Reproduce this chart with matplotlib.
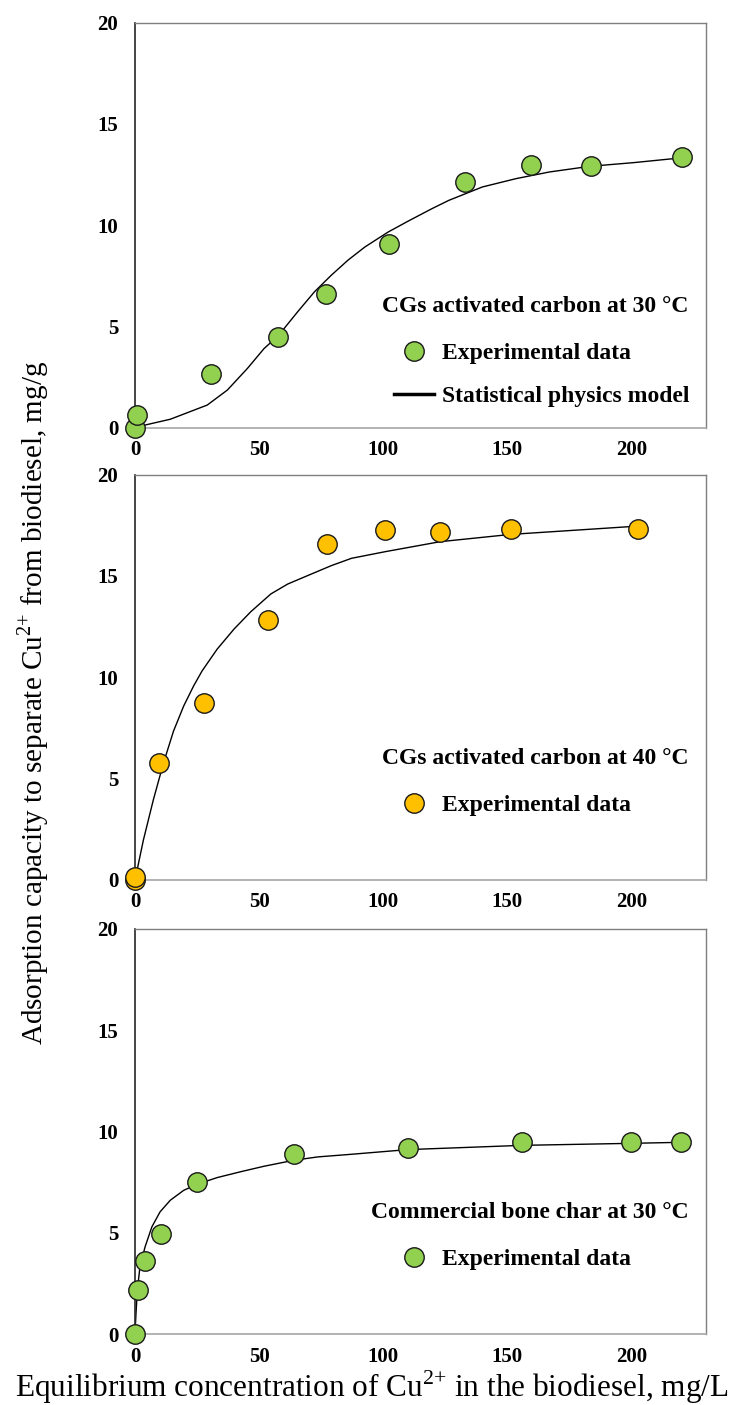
import matplotlib
matplotlib.use("Agg")
import matplotlib.pyplot as plt
from matplotlib.lines import Line2D

plt.rcParams["font.family"] = ["Liberation Serif", "DejaVu Serif"]
plt.rcParams["mathtext.fontset"] = "custom"
plt.rcParams["mathtext.rm"] = "Liberation Serif"

# panel 1: CGs activated carbon at 30 °C
x30 = [0, 0.9, 30.5, 57.7, 76.9, 102.3, 132.8, 159.6, 183.6, 220.3]
q30 = [0, 0.65, 2.64, 4.5, 6.62, 9.08, 12.13, 12.98, 12.95, 13.38]
mx30 = [0, 14.2, 29.1, 37.2, 45.3, 52.0, 57.7, 65.5, 72.3, 79.1, 85.8, 92.6,
        102.0, 110.1, 119.6, 126.4, 139.9, 153.4, 166.9, 183.2, 200.7, 220.3]
mq30 = [0.03, 0.43, 1.13, 1.87, 2.94, 3.92, 4.55, 5.73, 6.72, 7.54, 8.28, 8.93,
        9.67, 10.21, 10.82, 11.23, 11.89, 12.30, 12.63, 12.91, 13.09, 13.33]

# panel 2: CGs activated carbon at 40 °C
x40 = [0, 0.2, 9.7, 27.8, 53.5, 77.4, 100.9, 122.9, 151.4, 202.7]
q40 = [0, 0.15, 5.78, 8.75, 12.85, 16.6, 17.25, 17.16, 17.34, 17.31]
mx40 = [0, 3.4, 7.4, 11.5, 15.5, 19.6, 23.6, 27.0, 33.1, 39.9, 46.6, 54.7,
        61.5, 69.6, 79.1, 87.2, 100.9, 122.9, 151.4, 202.7]
mq40 = [0, 1.98, 3.96, 5.78, 7.34, 8.58, 9.57, 10.31, 11.39, 12.38, 13.23, 14.11,
        14.60, 15.02, 15.51, 15.87, 16.2, 16.69, 17.05, 17.46]

# panel 3: commercial bone char at 30 °C
xbc = [0, 1.2, 3.9, 10.5, 25.1, 63.9, 109.8, 155.8, 199.8, 219.9]
qbc = [0, 2.17, 3.62, 4.95, 7.52, 8.9, 9.16, 9.47, 9.47, 9.47]
mxbc = [0, 0.4, 0.95, 2.0, 4.05, 6.8, 10.1, 14.2, 19.6, 25.0, 33.1, 42.6, 52.0,
        63.8, 73.6, 87.2, 109.8, 155.8, 199.8, 219.9]
mqbc = [0.03, 1.02, 2.17, 3.32, 4.30, 5.29, 6.03, 6.60, 7.09, 7.39, 7.72, 8.01, 8.28,
        8.57, 8.74, 8.87, 9.10, 9.31, 9.41, 9.46]

panels = [
    ("CGs activated carbon at 30 °C", x30, q30, mx30, mq30, "#92D050", True),
    ("CGs activated carbon at 40 °C", x40, q40, mx40, mq40, "#FFC000", False),
    ("Commercial bone char at 30 °C", xbc, qbc, mxbc, mqbc, "#92D050", False),
]

fig = plt.figure(figsize=(7.43, 14.05), dpi=100)
bottoms = [0.6954, 0.3737, 0.0505]
left, width, height = 0.1817, 0.7685, 0.2885

for (title, xs, qs, mxs, mqs, color, show_model), b in zip(panels, bottoms):
    ax = fig.add_axes([left, b, width, height])
    ax.plot(mxs, mqs, color="black", linewidth=1.0, zorder=2)
    ax.plot(xs, qs, linestyle="none", marker="o", markersize=14,
            markerfacecolor=color, markeredgecolor="#1a1a1a",
            markeredgewidth=1.0, zorder=3, clip_on=False)
    ax.set_xlim(0, 230)
    ax.set_ylim(0, 20)
    ax.set_xticks([0, 50, 100, 150, 200])
    ax.set_yticks([0, 5, 10, 15, 20])
    ax.tick_params(length=0, labelsize=15)
    ax.tick_params(axis="y", pad=12)
    ax.tick_params(axis="x", pad=9)
    for lab in ax.get_xticklabels() + ax.get_yticklabels():
        lab.set_fontweight("bold")
    ax.spines["left"].set_color("#262626")
    ax.spines["left"].set_linewidth(1.2)
    ax.spines["bottom"].set_color("#A6A6A6")
    ax.spines["bottom"].set_linewidth(1.2)
    for s in ("top", "right"):
        ax.spines[s].set_color("#7F7F7F")
        ax.spines[s].set_linewidth(1.0)

    ax.text(0.97, 0.30, title, transform=ax.transAxes, ha="right", va="center",
            fontsize=17, fontweight="bold")
    handles = [Line2D([], [], linestyle="none", marker="o", markersize=14,
                      markerfacecolor=color, markeredgecolor="#1a1a1a",
                      markeredgewidth=1.0)]
    labels = ["Experimental data"]
    if show_model:
        handles.append(Line2D([], [], color="black", linewidth=2.5))
        labels.append("Statistical physics model")
    leg = ax.legend(handles, labels, loc="upper left",
                    bbox_to_anchor=(0.433, 0.24), frameon=False,
                    prop={"size": 17, "weight": "bold"}, handlelength=1.7,
                    handletextpad=0.35, labelspacing=0.9, borderpad=0)

fig.text(0.045, 0.5, "Adsorption capacity to separate Cu$^{2{+}}$ from biodiesel, mg/g",
         rotation=90, ha="center", va="center", fontsize=21)
fig.text(0.5, 0.0055, "Equilibrium concentration of Cu$^{2{+}}$ in the biodiesel, mg/L",
         ha="center", va="baseline", fontsize=22.5)

fig.savefig("out.png", dpi=100)
